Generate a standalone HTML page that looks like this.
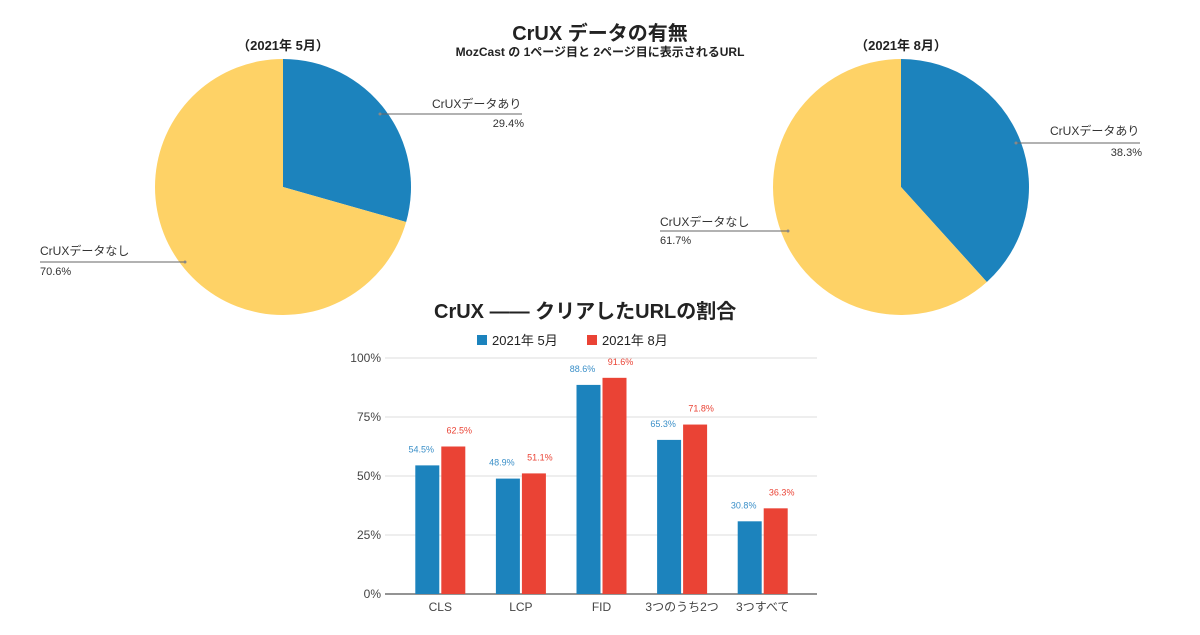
<!DOCTYPE html>
<html><head><meta charset="utf-8"><style>
body{margin:0;background:#fff;font-family:"Liberation Sans","Noto Sans CJK JP",sans-serif;}
svg text{font-family:"Liberation Sans","Noto Sans CJK JP",sans-serif;}
</style></head><body>
<svg id="c" width="1200" height="630" xmlns="http://www.w3.org/2000/svg">
<rect width="1200" height="630" fill="#fff"/>
<text x="600" y="40" text-anchor="middle" font-size="20" font-weight="bold" fill="#222">CrUX データの有無</text>
<text x="600" y="56" text-anchor="middle" font-size="12" font-weight="bold" fill="#222">MozCast の 1ページ目と 2ページ目に表示されるURL</text>
<text x="283" y="50" text-anchor="middle" font-size="13" font-weight="bold" fill="#222">（2021年 5月）</text>
<text x="901" y="50" text-anchor="middle" font-size="13" font-weight="bold" fill="#222">（2021年 8月）</text>
<g id="pies"></g>
<text x="434" y="318" font-size="20" font-weight="bold" fill="#222">CrUX —— クリアしたURLの割合</text>
<rect x="477" y="335" width="10" height="10" fill="#1c83bd"/>
<text x="492" y="345" font-size="13" fill="#222">2021年 5月</text>
<rect x="587" y="335" width="10" height="10" fill="#ea4335"/>
<text x="602" y="345" font-size="13" fill="#222">2021年 8月</text>
<g id="bars"></g>
</svg>
<script>
const categories=["CLS","LCP","FID","3つのうち2つ","3つすべて"];
const mayValues=[54.5,48.9,88.6,65.3,30.8];
const augValues=[62.5,51.1,91.6,71.8,36.3];
const yTicks=[0,25,50,75,100];
const pieMay=[29.4,70.6];
const pieAug=[38.3,61.7];
const NS="http://www.w3.org/2000/svg";
function mk(t,a,p){const e=document.createElementNS(NS,t);for(const k in a)e.setAttribute(k,a[k]);p.appendChild(e);return e;}
// bar chart
const bars=document.getElementById('bars');
const y=v=>594-v/100*236;
const gx=i=>400+(i+0.5)*80.6;
yTicks.forEach(t=>{
 const l=mk('line',{x1:385,x2:817,y1:y(t),y2:y(t),stroke:t===0?'#555':'#ddd','stroke-width':t===0?1.2:1},bars);
 
 
 const tx=mk('text',{x:381,y:y(t)+4,'text-anchor':'end','font-size':12,fill:'#444'},bars);tx.textContent=t+'%';
 
 
});
categories.forEach((c,i)=>{
 const cx=gx(i);
 [[mayValues[i],'#1c83bd','#3a8fc8',-25,'may'],[augValues[i],'#ea4335','#ea4335',1,'aug']].forEach(([v,col,tc,off,s])=>{
  const r=mk('rect',{x:cx+off,y:y(v),width:24,height:594-y(v),fill:col},bars);
  
  
  const t=mk('text',{x:cx+off+(s==='may'?0:24),y:y(v)-13,'text-anchor':s==='may'?'middle':'middle','font-size':9,fill:tc},bars);
  t.setAttribute('x',s==='may'?cx+off+6:cx+off+18);
  t.textContent=v.toFixed(1)+'%';
  
  
 });
 const lt=mk('text',{x:cx,y:611,'text-anchor':'middle','font-size':12,fill:'#444'},bars);lt.textContent=c;
 
 
});
// pies
const pies=document.getElementById('pies');
function pie(cx,cy,r,vals,nm){
 let a0=0;const cols=['#1c83bd','#fed266'];
 vals.forEach((v,i)=>{
  const a1=a0+v/100*2*Math.PI;
  const p=(a)=>[cx+r*Math.sin(a),cy-r*Math.cos(a)];
  const [x0,y0]=p(a0),[x1,y1]=p(a1);
  const e=mk('path',{d:`M${cx},${cy}L${x0},${y0}A${r},${r} 0 ${a1-a0>Math.PI?1:0} 1 ${x1},${y1}Z`,fill:cols[i]},pies);
  
  
  a0=a1;
 });
}
pie(283,187,128,pieMay,'pie-may');
pie(901,187,128,pieAug,'pie-aug');
function lab(txt,pct,tx,ty,lx1,lx2,ly,px,anchor,dot){
 mk('line',{x1:lx1,x2:lx2,y1:ly,y2:ly,stroke:'#666','stroke-width':1},pies);
 mk('circle',{cx:dot,cy:ly,r:1.5,fill:'#888'},pies);
 const a=mk('text',{x:tx,y:ty,'font-size':12,fill:'#333'},pies);a.textContent=txt;
 
 
 const b=mk('text',{x:px,y:ly+13,'font-size':11,fill:'#333','text-anchor':anchor},pies);b.textContent=pct.toFixed(1)+'%';
 
 
}
lab('CrUXデータあり',pieMay[0],432,108,380,522,114,524,'end',380);
lab('CrUXデータなし',pieMay[1],40,255,40,185,262,40,'start',185);
lab('CrUXデータあり',pieAug[0],1050,135,1016,1140,143,1142,'end',1016);
lab('CrUXデータなし',pieAug[1],660,226,660,788,231,660,'start',788);
</script>
</body></html>
